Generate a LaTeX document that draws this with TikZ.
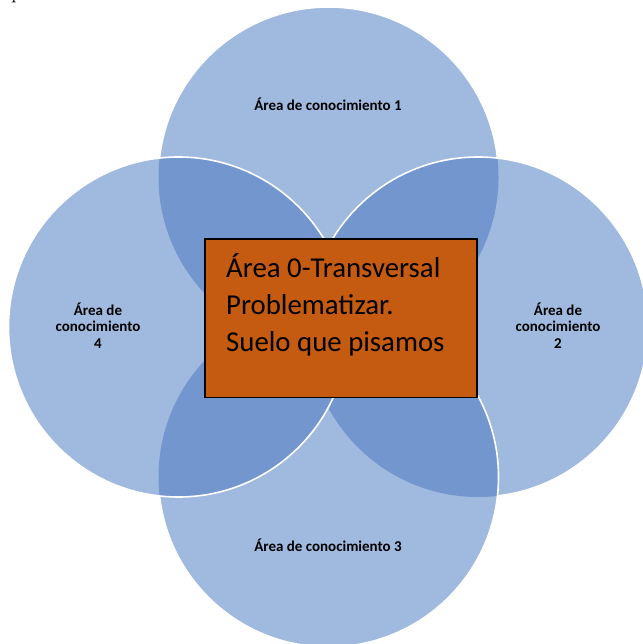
\documentclass[tikz,border=0pt]{standalone}
\usepackage{fontspec}
\setmainfont{Carlito}
\newfontfamily\docserif{Latin Modern Roman}
\definecolor{lightblue}{RGB}{160,185,222}
\definecolor{darkblue}{RGB}{115,150,206}
\definecolor{boxorange}{RGB}{197,90,17}
\tikzset{
  lightfill/.style={fill=lightblue},
  darkfill/.style={fill=darkblue},
  rim/.style={draw=white,line width=1.6pt},
  corebox/.style={draw=black,line width=1.6pt,fill=boxorange,inner sep=0pt},
  coretext/.style={inner sep=0pt,anchor=base west,font=\fontsize{28.8}{34}\selectfont},
  arealabel/.style={inner sep=0pt,anchor=base,font=\bfseries\fontsize{15}{17}\selectfont}
}
\begin{document}
\begin{tikzpicture}[x=1pt,y=-1pt]
\useasboundingbox (0,0) rectangle (642,644);
\coordinate (c1) at (328.5,177);
\coordinate (c2) at (478,327);
\coordinate (c3) at (328.5,477);
\coordinate (c4) at (178.5,327);
% top circle
\fill[lightfill] (c1) circle[radius=170pt];
\draw[rim] (c1) circle[radius=170pt];
% right circle
\fill[lightfill] (c2) circle[radius=170pt];
\begin{scope}
  \clip (c2) circle[radius=170pt];
  \fill[darkfill] (c1) circle[radius=170pt];
\end{scope}
\draw[rim] (c2) circle[radius=170pt];
% bottom circle
\fill[lightfill] (c3) circle[radius=170pt];
\begin{scope}
  \clip (c3) circle[radius=170pt];
  \fill[darkfill] (c1) circle[radius=170pt];
  \fill[darkfill] (c2) circle[radius=170pt];
\end{scope}
\draw[rim] (c3) circle[radius=170pt];
% left circle
\fill[lightfill] (c4) circle[radius=170pt];
\begin{scope}
  \clip (c4) circle[radius=170pt];
  \fill[darkfill] (c1) circle[radius=170pt];
  \fill[darkfill] (c2) circle[radius=170pt];
  \fill[darkfill] (c3) circle[radius=170pt];
\end{scope}
\draw[rim] (c4) circle[radius=170pt];
% labels
\node[arealabel] (l1) at (328,110.5) {Área de conocimiento 1};
\node[arealabel] (l3) at (328,551.5) {Área de conocimiento 3};
\node[arealabel] (l4a) at (98,315) {Área de};
\node[arealabel] (l4b) at (98,331.5) {conocimiento};
\node[arealabel] (l4c) at (98,348) {4};
\node[arealabel] (l2a) at (558,315) {Área de};
\node[arealabel] (l2b) at (558,331.5) {conocimiento};
\node[arealabel] (l2c) at (558,348) {2};
% central box
\node[corebox,minimum width=271.7pt,minimum height=158.7pt] (core) at (340.9,318.3) {};
\node[coretext] (t1) at (226,277) {Área 0-Transversal};
\node[coretext] (t2) at (226,314.5) {Problematizar.};
\node[coretext] (t3) at (226,351.5) {Suelo que pisamos};
% page fragment
\node[inner sep=0pt,anchor=base west,font=\docserif\fontsize{22}{22}\selectfont] (frag) at (11,-1.3) {p};
\end{tikzpicture}
\end{document}
